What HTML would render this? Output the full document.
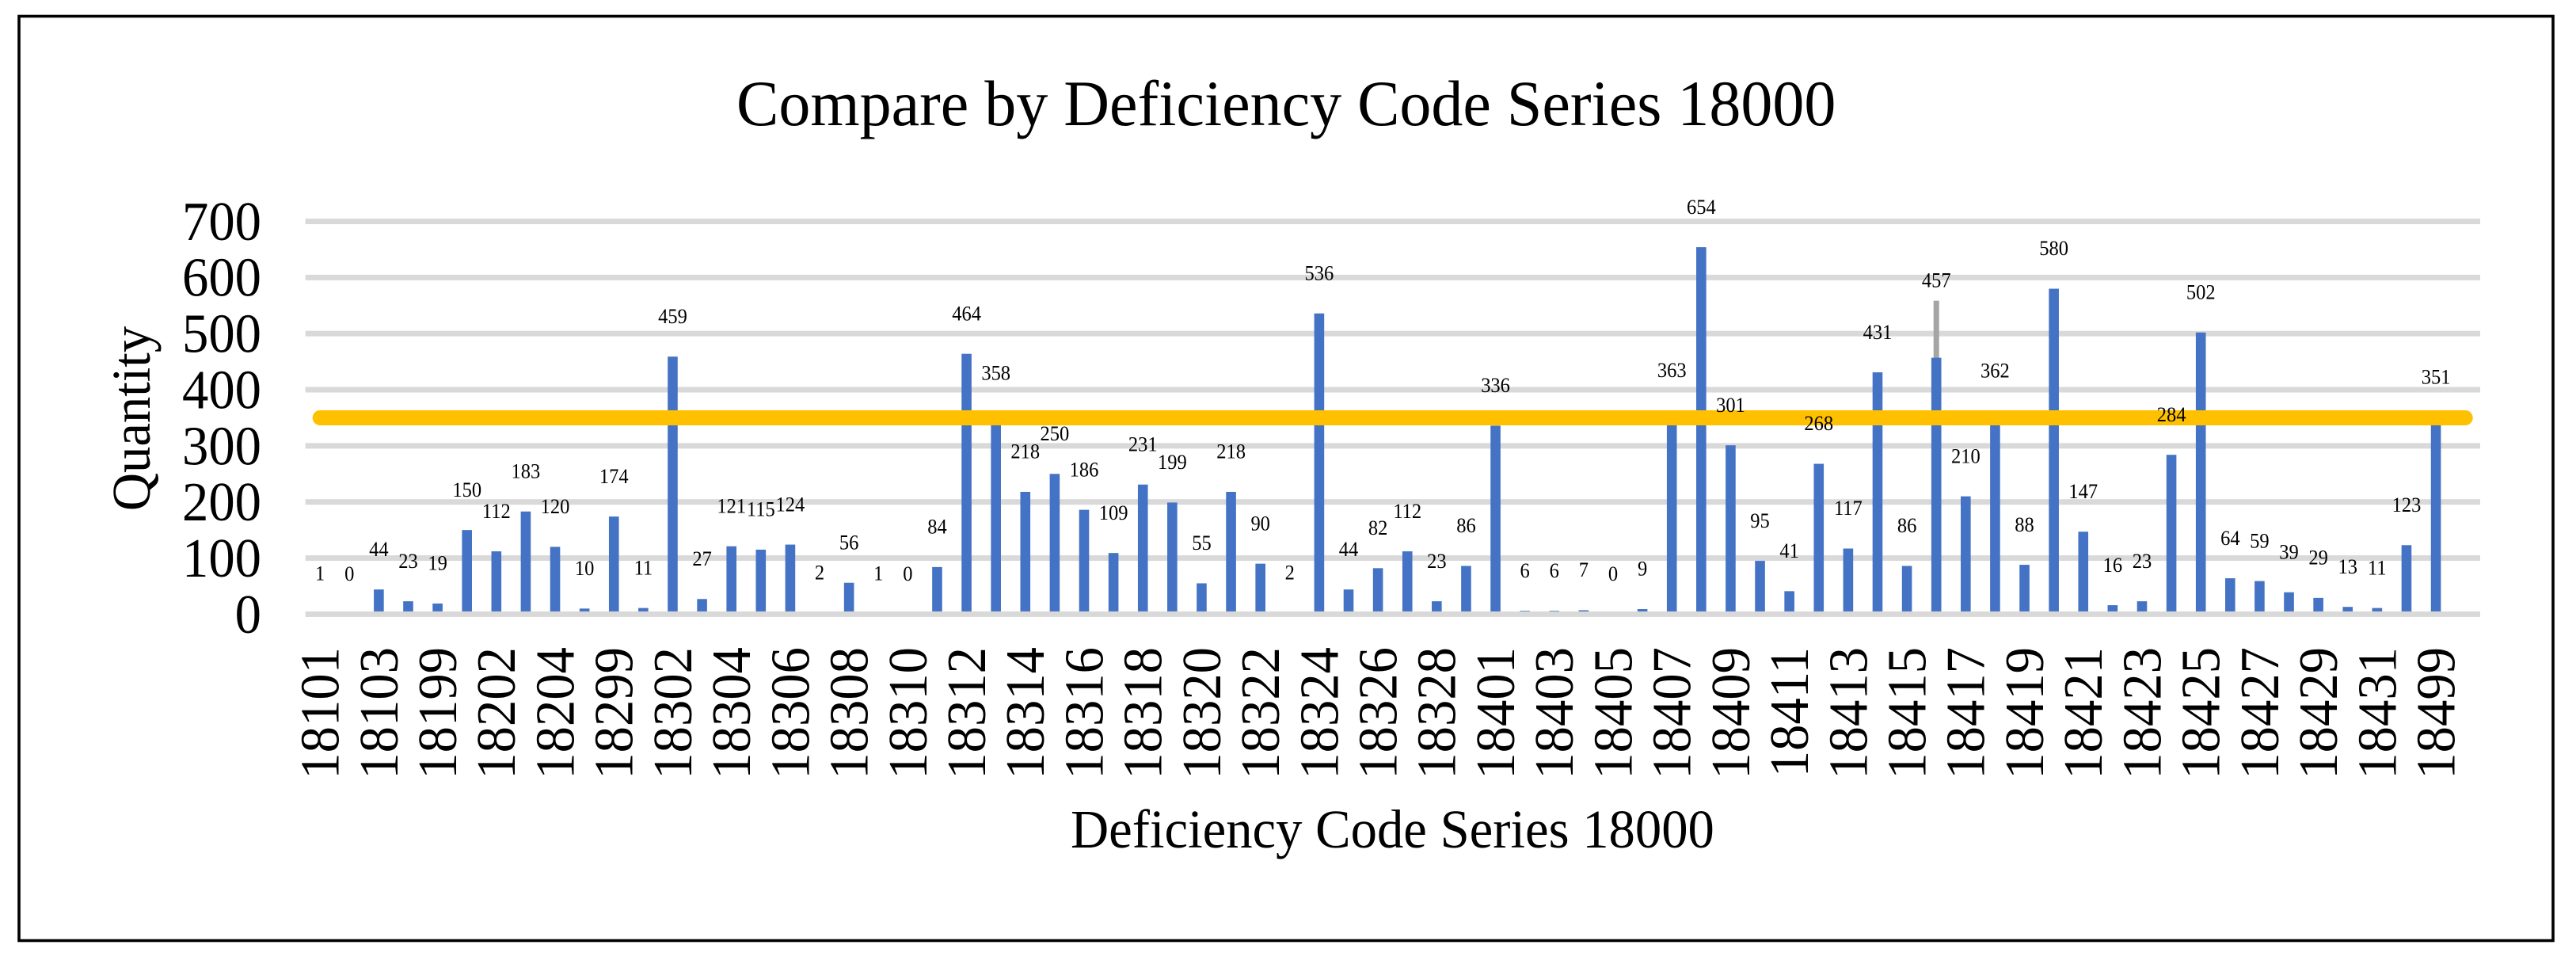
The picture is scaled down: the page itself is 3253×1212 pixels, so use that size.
<!DOCTYPE html>
<html lang="en">
<head>
<meta charset="utf-8">
<title>Compare by Deficiency Code Series 18000</title>
<style>
  html, body { margin: 0; padding: 0; background: #fff; }
  body { width: 3253px; height: 1212px; overflow: hidden; }
  svg { display: block; font-family: "Liberation Serif", serif; fill: #000; }
</style>
</head>
<body>
<svg id="chart" xmlns="http://www.w3.org/2000/svg" width="3253" height="1212" viewBox="0 0 3253 1212">
  <rect x="24" y="20.5" width="3200" height="1167" fill="#fff" stroke="#000" stroke-width="3.6"/>
  <text transform="translate(930 158) scale(1 1.02)" font-size="80">Compare by Deficiency Code Series 18000</text>
  <text transform="translate(189 528.5) rotate(-90) scale(1 1.03)" text-anchor="middle" font-size="66.7">Quantity</text>
  <text transform="translate(1352 1070) scale(1 1.03)" font-size="66.7">Deficiency Code Series 18000</text>
</svg>
<script>
const categories = ["18101","18102","18103","18104","18199","18201","18202","18203","18204","18205","18299","18301","18302","18303","18304","18305","18306","18307","18308","18309","18310","18311","18312","18313","18314","18315","18316","18317","18318","18319","18320","18321","18322","18323","18324","18325","18326","18327","18328","18399","18401","18402","18403","18404","18405","18406","18407","18408","18409","18410","18411","18412","18413","18414","18415","18416","18417","18418","18419","18420","18421","18422","18423","18424","18425","18426","18427","18428","18429","18430","18431","18432","18499"];
const quantities = [1,0,44,23,19,150,112,183,120,10,174,11,459,27,121,115,124,2,56,1,0,84,464,358,218,250,186,109,231,199,55,218,90,2,536,44,82,112,23,86,336,6,6,7,0,9,363,654,301,95,41,268,117,431,86,457,210,362,88,580,147,16,23,284,502,64,59,39,29,13,11,123,351];
const thresholdValues = [350,350];
const yTicks = [0,100,200,300,400,500,600,700];
const leaderCategory = "18416";

const svg = document.getElementById('chart');
const NS = 'http://www.w3.org/2000/svg';
const plot = { left: 385.6, right: 3132, zeroY: 775.4, topY: 279.5, maxV: 700, slots: 74 };
const bandW = 37.11;
function xScale(i) { return plot.left + bandW * (i + 0.5); }
function yScale(v) { return plot.zeroY - (plot.zeroY - plot.topY) * v / plot.maxV; }
function make(tag, attrs, parent) {
  const el = document.createElementNS(NS, tag);
  for (const k in attrs) el.setAttribute(k, attrs[k]);
  (parent || svg).appendChild(el);
  return el;
}
function drawGridline(v) {
  const el = make('rect', { x: plot.left, y: yScale(v) - 3.5, width: plot.right - plot.left, height: 7, fill: '#D9D9D9' });
  
  
}

// gridlines below the bars; the zero line sits above them
yTicks.filter(function (v) { return v !== 0; }).forEach(drawGridline);

// leader line for the manually moved label
const leaderIndex = categories.indexOf(leaderCategory);
const leaderEl = make('rect', { x: xScale(leaderIndex) - 3.5, y: yScale(quantities[leaderIndex]) - 72, width: 7, height: 73, fill: '#A5A5A5' });



// bars
quantities.forEach(function (v, i) {
  const top = yScale(v);
  const bar = make('rect', { x: xScale(i) - 6.3, y: top, width: 12.6, height: plot.zeroY - top, fill: '#4472C4' });
  
  
});
yTicks.filter(function (v) { return v === 0; }).forEach(drawGridline);

// threshold line
const lineStart = xScale(0);
const lineEnd = xScale(plot.slots - 1);
const thresholdLine = make('line', { x1: lineStart, x2: lineEnd, y1: yScale(thresholdValues[0]), y2: yScale(thresholdValues[1]), stroke: '#FFC000', 'stroke-width': 19, 'stroke-linecap': 'round' });



// y tick labels
yTicks.forEach(function (v) {
  const t = make('text', { transform: 'translate(330 ' + (yScale(v) + 23.4) + ') scale(1 1.05)', 'text-anchor': 'end', 'font-size': 66.7 });
  t.textContent = v;
  
  
});

// x tick labels, every second category
categories.forEach(function (c, i) {
  if (i % 2 !== 0) return;
  const t = make('text', { transform: 'translate(' + (xScale(i) + 23.4) + ' 817) rotate(-90) scale(1 1.04)', 'text-anchor': 'end', 'font-size': 66.7 });
  t.textContent = c;
  
  
});

// data labels
quantities.forEach(function (v, i) {
  const offset = i === leaderIndex ? 97.3 : 50.5;
  const t = make('text', { transform: 'translate(' + xScale(i) + ' ' + (yScale(v) - offset + 8.2) + ') scale(1 1.06)', 'text-anchor': 'middle', 'font-size': 24.5 });
  t.textContent = v;
  
  
});
</script>
</body>
</html>
